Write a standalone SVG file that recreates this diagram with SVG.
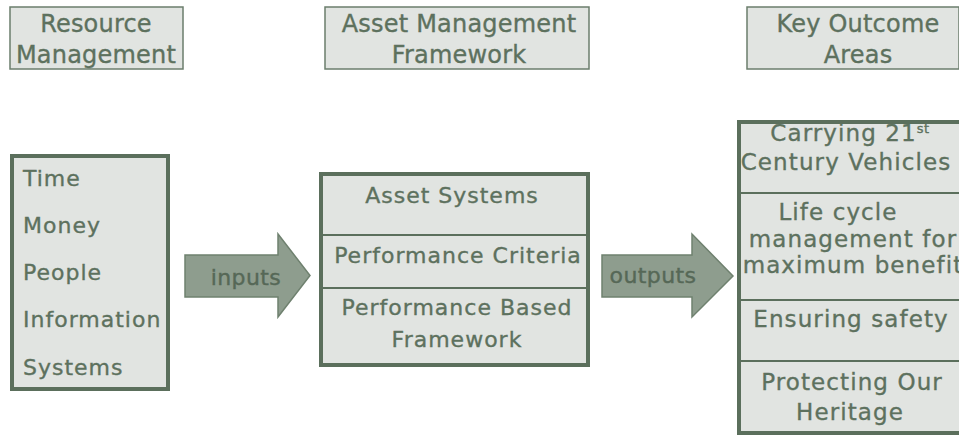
<svg xmlns="http://www.w3.org/2000/svg" width="959" height="436" viewBox="0 0 959 436">
<style>
.t{font-family:"DejaVu Sans","Lato",sans-serif;fill:#5d715e;stroke:#5d715e;stroke-width:0.35;}
.title{font-size:24px;letter-spacing:0.2px;text-anchor:middle;}
.body{font-size:22px;letter-spacing:1px;}
.rb{font-size:23px;letter-spacing:1.1px;text-anchor:middle;}
.mid{text-anchor:middle;}
.hdr{fill:#e1e4e1;stroke:#6b7e6c;stroke-width:1.5;}
.box{fill:#e1e4e1;stroke:#5b6f5c;stroke-width:4;}
.div{stroke:#5b6f5c;stroke-width:2;}
.arrow{fill:#8e9d8e;stroke:#6f816f;stroke-width:1.5;}
.at{font-family:"DejaVu Sans","Lato",sans-serif;font-size:22px;letter-spacing:0.4px;fill:#566857;stroke:#566857;stroke-width:0.4;text-anchor:middle;}
</style>
<rect width="959" height="436" fill="#ffffff"/>
<g id="hdr-resource">
<rect class="hdr" x="10" y="7" width="173" height="62"/>
<text class="t title" x="96" y="32">Resource</text>
<text class="t title" x="96" y="63">Management</text>
</g>
<g id="hdr-asset">
<rect class="hdr" x="325" y="7" width="264" height="62"/>
<text class="t title" x="459" y="32">Asset Management</text>
<text class="t title" x="459" y="63">Framework</text>
</g>
<g id="hdr-outcome">
<rect class="hdr" x="747" y="7" width="212" height="62"/>
<text class="t title" x="858" y="32">Key Outcome</text>
<text class="t title" x="858" y="63">Areas</text>
</g>
<g id="resources">
<rect class="box" x="12" y="156" width="156" height="233"/>
<text class="t body" x="23" y="186">Time</text>
<text class="t body" x="23" y="233">Money</text>
<text class="t body" x="23" y="280">People</text>
<text class="t body" x="23" y="327">Information</text>
<text class="t body" x="23" y="375">Systems</text>
</g>
<g id="framework">
<rect class="box" x="321" y="174" width="267" height="191"/>
<line class="div" x1="321" y1="235" x2="588" y2="235"/>
<line class="div" x1="321" y1="288" x2="588" y2="288"/>
<text class="t body mid" x="452" y="203">Asset Systems</text>
<text class="t body mid" x="458" y="263">Performance Criteria</text>
<text class="t body mid" x="457" y="315">Performance Based</text>
<text class="t body mid" x="457" y="347">Framework</text>
</g>
<g id="outcomes">
<rect class="box" x="739" y="122" width="240" height="311"/>
<line class="div" x1="739" y1="193" x2="959" y2="193"/>
<line class="div" x1="739" y1="300" x2="959" y2="300"/>
<line class="div" x1="739" y1="361" x2="959" y2="361"/>
<text class="t rb" x="850" y="141">Carrying 21<tspan font-size="13" dy="-8" letter-spacing="0.5">st</tspan></text>
<text class="t rb" x="846" y="170">Century Vehicles</text>
<text class="t rb" x="838" y="220">Life cycle</text>
<text class="t rb" x="853" y="247">management for</text>
<text class="t rb" x="853" y="273">maximum benefit</text>
<text class="t rb" x="851" y="327">Ensuring safety</text>
<text class="t rb" x="852" y="390">Protecting Our</text>
<text class="t rb" x="850" y="420">Heritage</text>
</g>
<g id="connectors">
<g id="arrow-inputs">
<path class="arrow" d="M185,255 H278 V234 L310,275.5 L278,317 V297 H185 Z"/>
<text class="at" x="246" y="285">inputs</text>
</g>
<g id="arrow-outputs">
<path class="arrow" d="M602,255 H692 V234 L733,276 L692,317 V297 H602 Z"/>
<text class="at" x="653" y="283">outputs</text>
</g>
</g>
</svg>
